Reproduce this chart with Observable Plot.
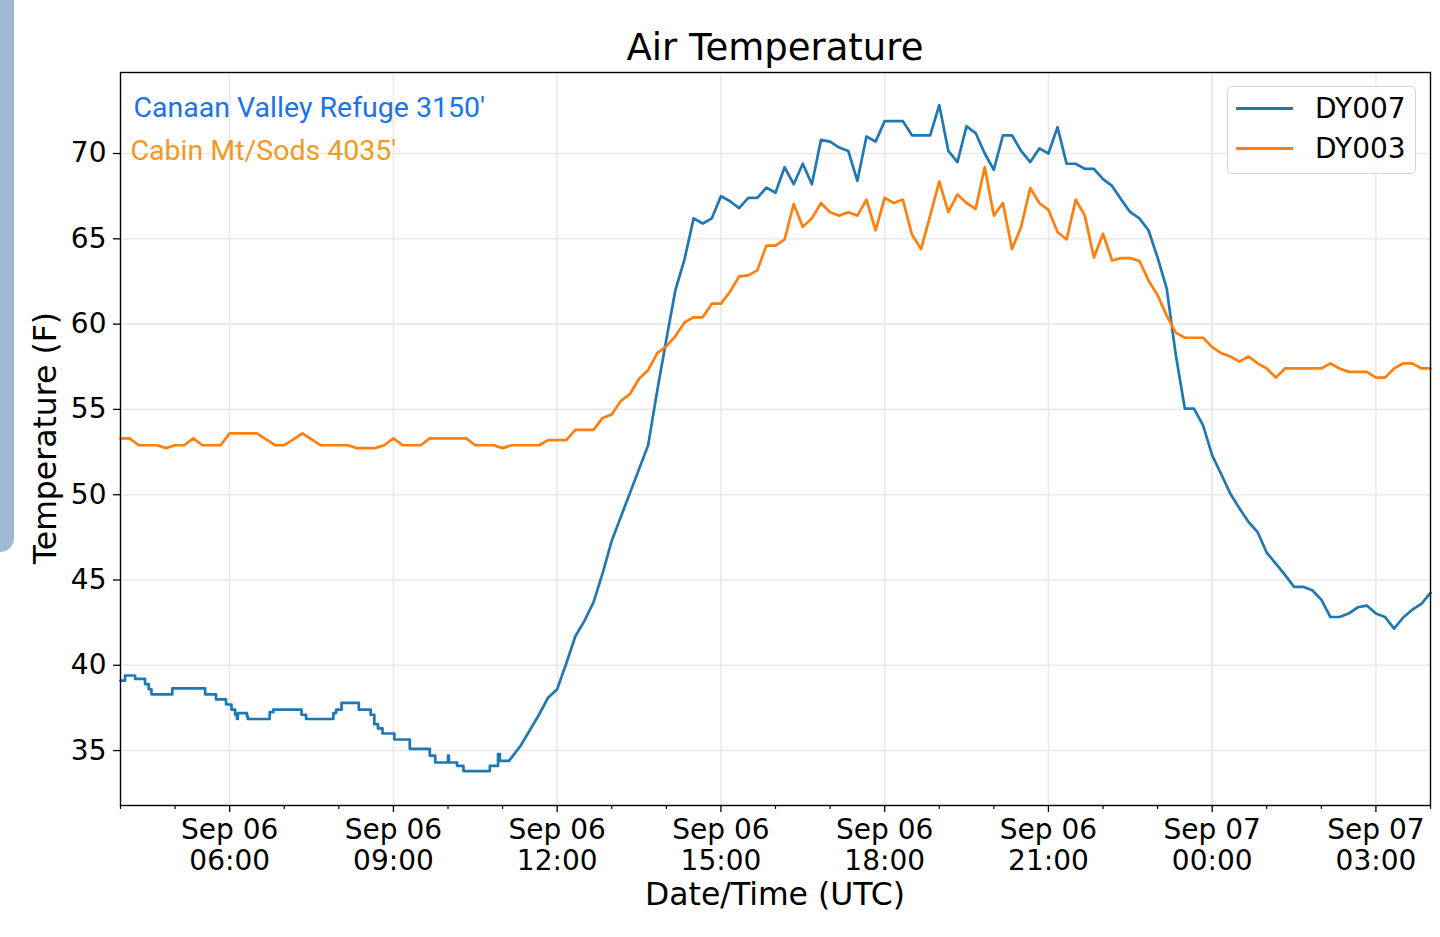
<!DOCTYPE html>
<html>
<head>
<meta charset="utf-8">
<script src="https://cdn.jsdelivr.net/npm/d3@7"></script>
<script src="https://cdn.jsdelivr.net/npm/@observablehq/plot@0.6"></script>
<style>
  html, body { margin: 0; padding: 0; background: #ffffff; }
  #page { position: relative; width: 1440px; height: 937px; overflow: hidden; background: #fff; font-family: "DejaVu Sans", sans-serif; color: #000; }
  #chart { position: absolute; left: 0; top: 0; }
  #side { position: absolute; left: 0; top: 0; width: 14px; height: 552px; background: #9fb9d4; border-bottom-right-radius: 14px; }
  .lbl { position: absolute; white-space: nowrap; transform: translate(-50%, -50%); }
  #title { left: 775px; top: 47px; font-size: 37px; line-height: 37px; }
  #xlabel { left: 775px; top: 894px; font-size: 31.5px; line-height: 32px; }
  #ylabel { left: 45px; top: 438px; font-size: 31.5px; line-height: 32px; transform: translate(-50%, -50%) rotate(-90deg); }
  #legend { position: absolute; left: 1227px; top: 86px; width: 189px; height: 88px; box-sizing: border-box; border: 1.5px solid #d6d6d6; border-radius: 5px; background: rgba(255,255,255,0.85); }
  .sw { position: absolute; left: 8px; width: 57px; height: 3px; }
  .lt { position: absolute; left: 87px; font-size: 28px; line-height: 30px; white-space: nowrap; }
</style>
</head>
<body>
<div id="page">
  <div id="side"></div>
  <div id="chart"></div>
  <div id="title" class="lbl">Air Temperature</div>
  <div id="xlabel" class="lbl">Date/Time (UTC)</div>
  <div id="ylabel" class="lbl">Temperature (F)</div>
  <div id="legend"></div>
</div>
<script>
// ---- data ----
const startTime = "2019-09-06T04:00:00Z";
const endTime = "2019-09-07T04:00:00Z";
const seriesNames = ["DY007", "DY003"];
const seriesColors = ["#1f77b4", "#ff7f0e"];
const stationLabels = ["Canaan Valley Refuge 3150'", "Cabin Mt/Sods 4035'"];
const stationColors = ["#1a73e8", "#f39a1c"];
const yTicks = [35, 40, 45, 50, 55, 60, 65, 70];
const yDomain = [31.78, 74.75];

// DY007 early (stepped) readings: minutes after 04:00 and value (F)
const dy007StepMinutes = [0, 5, 16, 27, 31, 34, 57, 93, 105, 116, 122, 126, 128, 129, 139, 140, 164, 168, 199, 204, 234, 237, 243, 262, 275, 279, 283, 288, 301, 318, 340, 346, 360, 361, 370, 377, 406, 415, 417, 427];
const dy007StepValues  = [39.1, 39.4, 39.2, 38.9, 38.6, 38.3, 38.65, 38.3, 38.0, 37.7, 37.4, 37.1, 36.85, 37.2, 37.0, 36.85, 37.25, 37.4, 37.1, 36.85, 37.2, 37.4, 37.8, 37.4, 37.1, 36.55, 36.3, 36.0, 35.65, 35.1, 34.7, 34.3, 34.7, 34.3, 34.1, 33.8, 34.1, 34.8, 34.4, 34.4];

// DY007 10-minute readings starting at 11:10 (430 min after 04:00)
const dy007StartMinute = 430;
const dy007Values = [34.6, 35.3, 36.2, 37.1, 38.1, 38.6, 40.1, 41.7, 42.6, 43.7,
  45.4, 47.3, 48.7, 50.1, 51.5, 52.9, 56.1, 59.1, 62.0, 63.8,
  66.2, 65.9, 66.2, 67.5, 67.2, 66.8, 67.4, 67.4, 68.0, 67.7,
  69.2, 68.2, 69.4, 68.2, 70.8, 70.7, 70.35, 70.15, 68.4, 71.0,
  70.7, 71.9, 71.9, 71.9, 71.07, 71.07, 71.07, 72.84, 70.15, 69.5,
  71.6, 71.2, 70.0, 69.05, 71.07, 71.07, 70.15, 69.5, 70.3, 70.0,
  71.55, 69.4, 69.4, 69.1, 69.1, 68.5, 68.1, 67.3, 66.56, 66.2,
  65.5, 63.9, 62.1, 58.2, 55.04, 55.04, 54.06, 52.3, 51.2, 50.06,
  49.2, 48.4, 47.8, 46.6, 45.96, 45.3, 44.6, 44.6, 44.4, 43.85,
  42.83, 42.83, 43.03, 43.4, 43.5, 43.03, 42.83, 42.15, 42.8, 43.26,
  43.6, 44.24];

// DY003 10-minute readings starting at 04:00
const dy003Values = [53.3, 53.3, 52.9, 52.9, 52.9, 52.73, 52.9, 52.9, 53.3, 52.9,
  52.9, 52.9, 53.6, 53.6, 53.6, 53.6, 53.25, 52.9, 52.9, 53.25,
  53.6, 53.25, 52.9, 52.9, 52.9, 52.9, 52.73, 52.73, 52.73, 52.9,
  53.3, 52.9, 52.9, 52.9, 53.3, 53.3, 53.3, 53.3, 53.3, 52.9,
  52.9, 52.9, 52.73, 52.9, 52.9, 52.9, 52.9, 53.2, 53.2, 53.2,
  53.8, 53.8, 53.8, 54.5, 54.7, 55.5, 55.9, 56.8, 57.3, 58.3,
  58.7, 59.3, 60.1, 60.4, 60.4, 61.2, 61.2, 61.9, 62.8, 62.86,
  63.15, 64.6, 64.6, 64.96, 67.04, 65.7, 66.2, 67.1, 66.56, 66.36,
  66.56, 66.36, 67.3, 65.5, 67.4, 67.1, 67.3, 65.25, 64.4, 66.36,
  68.35, 66.56, 67.6, 67.1, 66.75, 69.2, 66.36, 67.1, 64.4, 65.7,
  67.98, 67.1, 66.7, 65.4, 64.96, 67.3, 66.36, 63.9, 65.3, 63.73,
  63.87, 63.87, 63.7, 62.56, 61.7, 60.5, 59.5, 59.2, 59.2, 59.2,
  58.65, 58.3, 58.1, 57.8, 58.1, 57.7, 57.4, 56.86, 57.4, 57.4,
  57.4, 57.4, 57.4, 57.7, 57.4, 57.2, 57.2, 57.2, 56.86, 56.86,
  57.4, 57.7, 57.7, 57.4, 57.4];

// ---- build tables ----
const t0 = new Date(startTime).getTime();
const t1 = new Date(endTime).getTime();
const atMinute = m => new Date(t0 + m * 60000);
const dy007Step = dy007StepMinutes.map((m, i) => ({t: atMinute(m), v: dy007StepValues[i]}));
const dy007 = [dy007Step[dy007Step.length - 1]].concat(dy007Values.map((v, i) => ({t: atMinute(dy007StartMinute + i * 10), v})));
const dy003 = dy003Values.map((v, i) => ({t: atMinute(i * 10), v}));

const majorTicks = d3.utcHour.every(3).range(atMinute(60), new Date(t1 + 1));
const minorTicks = d3.utcHour.every(1).range(new Date(t0), new Date(t1 + 1)).filter(d => d.getUTCHours() % 3 !== 0);
const fmtTick = d => d3.utcFormat("%b %d")(d) + "\n" + d3.utcFormat("%H:%M")(d);

const gridColor = "#e9e9e9";
const chart = Plot.plot({
  width: 1440,
  height: 937,
  marginTop: 72,
  marginBottom: 132,
  marginLeft: 120,
  marginRight: 10,
  style: {fontFamily: "DejaVu Sans", fontSize: "28px", color: "#000", background: "transparent", overflow: "visible"},
  x: {type: "utc", domain: [new Date(t0), new Date(t1)]},
  y: {domain: yDomain},
  marks: [
    Plot.gridX(majorTicks, {stroke: gridColor, strokeOpacity: 1, strokeWidth: 1.6}),
    Plot.gridY(yTicks, {stroke: gridColor, strokeOpacity: 1, strokeWidth: 1.6}),
    Plot.line(dy007Step, {x: "t", y: "v", curve: "step-after", stroke: seriesColors[0], strokeWidth: 2.7}),
    Plot.line(dy007, {x: "t", y: "v", stroke: seriesColors[0], strokeWidth: 2.7, strokeLinejoin: "round"}),
    Plot.line(dy003, {x: "t", y: "v", stroke: seriesColors[1], strokeWidth: 2.7, strokeLinejoin: "round"}),
    Plot.frame({stroke: "#000", strokeWidth: 1.4}),
    Plot.axisX(majorTicks, {tickSize: 7, tickPadding: 4, tickFormat: fmtTick, fontSize: 28, lineHeight: 1.12, label: null, stroke: "#000", strokeWidth: 1.3}),
    Plot.axisX(minorTicks, {tickSize: 4, tickFormat: () => "", label: null, stroke: "#000", strokeWidth: 1.2}),
    Plot.axisY(yTicks, {tickSize: 7, tickPadding: 7, fontSize: 28, label: null, stroke: "#000", strokeWidth: 1.3}),
    Plot.text([stationLabels[0]], {frameAnchor: "top-left", textAnchor: "start", lineAnchor: "middle", dx: 13, dy: 35.5, fill: stationColors[0], fontFamily: "Roboto", fontSize: 28.5}),
    Plot.text([stationLabels[1]], {frameAnchor: "top-left", textAnchor: "start", lineAnchor: "middle", dx: 10, dy: 78, fill: stationColors[1], fontFamily: "Roboto", fontSize: 28.5})
  ]
});
document.getElementById("chart").appendChild(chart);

// legend
const legend = document.getElementById("legend");
seriesNames.forEach((name, i) => {
  const sw = document.createElement("div");
  sw.className = "sw";
  sw.style.top = (21.5 + i * 40 - 1.5) + "px";
  sw.style.background = seriesColors[i];
  legend.appendChild(sw);
  const lt = document.createElement("div");
  lt.className = "lt";
  lt.style.top = (7 + i * 40) + "px";
  lt.textContent = name;
  legend.appendChild(lt);
});
</script>
</body>
</html>
